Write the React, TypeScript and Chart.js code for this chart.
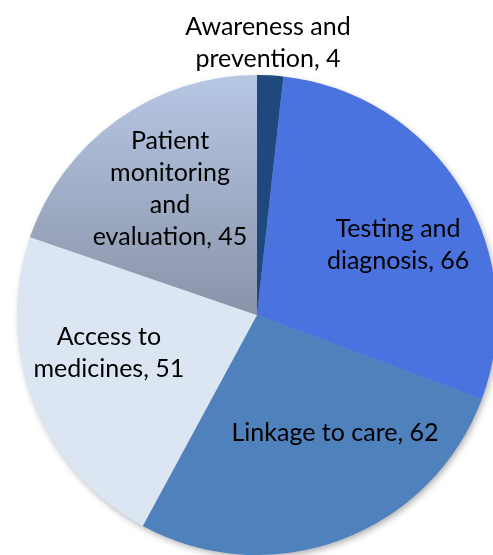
import React, { useEffect, useRef } from "react";
import { Chart, registerables } from "chart.js";

Chart.register(...registerables);

const categories = [
  "Awareness and prevention",
  "Testing and diagnosis",
  "Linkage to care",
  "Access to medicines",
  "Patient monitoring and evaluation",
];
const values = [4, 66, 62, 51, 45];
// how each category name is wrapped into lines on the chart
const categoryLines = [
  ["Awareness and", "prevention"],
  ["Testing and", "diagnosis"],
  ["Linkage to care"],
  ["Access to", "medicines"],
  ["Patient", "monitoring", "and", "evaluation"],
];
const sliceColors = ["#1F497D", "#4A73E0", "#4F81BD", "#DCE6F2", "gradient"];
const gradientTop = "#B6C7E4";
const gradientBottom = "#8A93A8";
// label placement in polar terms (degrees, fraction of radius)
const labelAngle = [-87.7, -26.7, 56.3, 166, -124.5];
const labelDist = [1.138, 0.658, 0.586, 0.636, 0.64];

const FONT = "25px Lato";
const LINE_H = 32;

export default function App() {
  const ref = useRef<HTMLCanvasElement | null>(null);

  useEffect(() => {
    let chart: Chart | null = null;
    let cancelled = false;

    const shadowPlugin = {
      id: "pieShadow",
      beforeDatasetsDraw(c: any) {
        const arc: any = c.getDatasetMeta(0).data[0];
        if (!arc) return;
        const { x, y, outerRadius } = arc;
        const ctx = c.ctx;
        ctx.save();
        ctx.shadowColor = "rgba(0,0,0,0.35)";
        ctx.shadowBlur = 7;
        ctx.shadowOffsetX = 2;
        ctx.shadowOffsetY = 3;
        ctx.beginPath();
        ctx.arc(x, y, outerRadius - 1, 0, Math.PI * 2);
        ctx.fillStyle = "#8A94AA";
        ctx.fill();
        ctx.restore();
      },
    };

    const labelPlugin = {
      id: "sliceLabels",
      afterDatasetsDraw(c: any) {
        const arc: any = c.getDatasetMeta(0).data[0];
        if (!arc) return;
        const { x, y, outerRadius } = arc;
        const ctx = c.ctx;
        ctx.save();
        ctx.font = FONT;
        ctx.fillStyle = "#000";
        ctx.textAlign = "center";
        ctx.textBaseline = "middle";
        values.forEach((v, i) => {
          const lines = categoryLines[i].slice();
          lines[lines.length - 1] = lines[lines.length - 1] + ", " + v;
          const a = (labelAngle[i] * Math.PI) / 180;
          const r = outerRadius * labelDist[i];
          const lx = x + Math.cos(a) * r;
          const ly = y + Math.sin(a) * r;
          const n = lines.length;
          lines.forEach((t, j) => {
            ctx.fillText(t, lx, ly + (j - (n - 1) / 2) * LINE_H + 1);
          });
        });
        ctx.restore();
      },
    };

    const create = () => {
      if (cancelled || !ref.current) return;
      chart = new Chart(ref.current, {
        type: "pie",
        data: {
          labels: categories,
          datasets: [
            {
              data: values,
              borderWidth: 0,
              backgroundColor: (ctx: any) => {
                const i = ctx.dataIndex;
                const col = sliceColors[i];
                if (col !== "gradient") return col;
                const ch = ctx.chart;
                const area = ch.chartArea;
                if (!area) return gradientTop;
                const cy = (area.top + area.bottom) / 2;
                const g = ch.ctx.createLinearGradient(0, area.top, 0, cy);
                g.addColorStop(0, gradientTop);
                g.addColorStop(1, gradientBottom);
                return g;
              },
            },
          ],
        },
        options: {
          responsive: false,
          animation: false,
          layout: { padding: { left: 17, right: 17, top: 75, bottom: 0 } },
          plugins: {
            legend: { display: false },
            tooltip: { enabled: false },
            title: { display: false },
          },
        },
        plugins: [shadowPlugin, labelPlugin],
      });
    };

    if ((document as any).fonts && (document as any).fonts.load) {
      (document as any).fonts.load(FONT).then(create, create);
    } else {
      create();
    }

    return () => {
      cancelled = true;
      if (chart) chart.destroy();
    };
  }, []);

  return (
    <div
      style={{
        position: "absolute",
        left: 0,
        top: 0,
        width: 493,
        height: 555,
        overflow: "hidden",
        background: "#fff",
      }}
    >
      <canvas ref={ref} width={514} height={555} style={{ display: "block" }} />
    </div>
  );
}
